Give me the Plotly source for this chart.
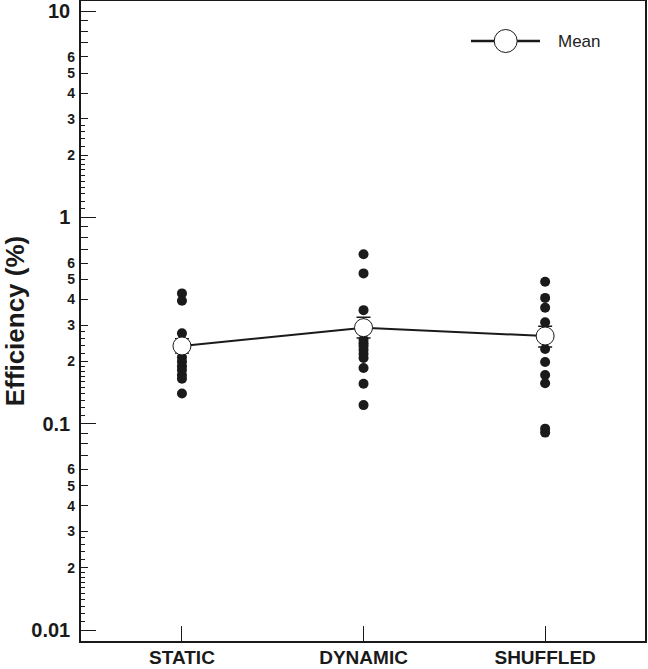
import plotly.graph_objects as go

categories = ["STATIC", "DYNAMIC", "SHUFFLED"]

static_vals = [0.428, 0.394, 0.274, 0.210, 0.200, 0.190, 0.182, 0.172, 0.165, 0.140]
dynamic_vals = [0.662, 0.535, 0.355, 0.255, 0.245, 0.238, 0.228, 0.218, 0.208, 0.186, 0.156, 0.123]
shuffled_vals = [0.487, 0.407, 0.365, 0.310, 0.230, 0.199, 0.172, 0.157, 0.0946, 0.0905]

mean_vals = [0.238, 0.292, 0.266]
err_plus = [0.020, 0.036, 0.031]
err_minus = [0.018, 0.032, 0.031]

major_ticks = [0.01, 0.1, 1, 10]
major_labels = ["0.01", "0.1", "1", "10"]
labeled_minor = [0.02, 0.03, 0.04, 0.05, 0.06, 0.2, 0.3, 0.4, 0.5, 0.6, 2, 3, 4, 5, 6]
labeled_minor_text = ["2", "3", "4", "5", "6"] * 3
plain_minor = [0.07, 0.08, 0.09, 0.7, 0.8, 0.9, 7, 8, 9]
fine_minor_base = [1.1, 1.2, 1.3, 1.4, 1.5, 1.6, 1.7, 1.8, 1.9, 2.2, 2.4, 2.6, 2.8]
fine_minor = [round(v * d, 6) for d in (0.01, 0.1, 1) for v in fine_minor_base]

INK = "#1a1a1a"
FONT = "Liberation Sans"
yrange = [-2.0533, 1.0485]

fig = go.Figure()

xs, ys = [], []
for cat, vals in zip(categories, [static_vals, dynamic_vals, shuffled_vals]):
    xs += [cat] * len(vals)
    ys += vals

fig.add_trace(go.Scatter(
    x=xs, y=ys, mode="markers",
    marker=dict(size=10, color=INK, line=dict(width=0)),
    showlegend=False, hoverinfo="skip",
))

fig.add_trace(go.Scatter(
    x=categories, y=mean_vals, mode="lines+markers", name="Mean",
    line=dict(color=INK, width=2),
    marker=dict(size=18, color="white", line=dict(color=INK, width=1)),
    error_y=dict(type="data", array=err_plus, arrayminus=err_minus,
                 color=INK, thickness=1.5, width=7),
    showlegend=False,
))

# y2: labelled minor ticks
fig.add_trace(go.Scatter(x=[categories[0]], y=[1], yaxis="y2", mode="markers",
                         marker=dict(size=0, opacity=0), showlegend=False, hoverinfo="skip"))

# custom legend on overlay axes
fig.add_trace(go.Scatter(x=[0.6915, 0.8138], y=[0.9375, 0.9375], xaxis="x2", yaxis="y3",
                         mode="lines", line=dict(color=INK, width=2.5),
                         showlegend=False, hoverinfo="skip"))
fig.add_trace(go.Scatter(x=[0.753], y=[0.9375], xaxis="x2", yaxis="y3",
                         mode="markers",
                         marker=dict(size=23, color="white", line=dict(color=INK, width=1)),
                         showlegend=False, hoverinfo="skip"))
fig.add_annotation(x=0.843, y=0.9375, xref="paper", yref="paper", text="Mean",
                   showarrow=False, xanchor="left", yanchor="middle",
                   font=dict(family=FONT, size=17, color="#222"))

fig.update_layout(
    width=648, height=669,
    margin=dict(l=81, r=3, t=1, b=28),
    paper_bgcolor="white", plot_bgcolor="white",
    showlegend=False,
    xaxis=dict(
        type="category", categoryorder="array", categoryarray=categories,
        range=[-0.556, 2.55], automargin=False,
        showline=True, linecolor=INK, linewidth=1.5, mirror=True,
        ticks="inside", ticklen=15, tickcolor=INK, tickwidth=1,
        ticklabelstandoff=-2,
        tickfont=dict(family=FONT, size=19, color=INK, weight="bold"),
        showgrid=False, zeroline=False,
    ),
    yaxis=dict(
        type="log", range=yrange, automargin=False,
        showline=True, linecolor=INK, linewidth=1.5, mirror=True,
        tickmode="array", tickvals=major_ticks, ticktext=major_labels,
        ticks="inside", ticklen=15, tickcolor=INK, tickwidth=1,
        ticklabelstandoff=5,
        tickfont=dict(family=FONT, size=20, color=INK, weight="bold"),
        showgrid=False, zeroline=False,
        title=dict(text="Efficiency (%)", standoff=7,
                   font=dict(family=FONT, size=26, color=INK, weight="bold")),
        minor=dict(tickmode="array", tickvals=fine_minor, ticks="inside",
                   ticklen=4, tickcolor=INK, tickwidth=1, showgrid=False),
    ),
    yaxis2=dict(
        type="log", range=yrange, overlaying="y", side="left", anchor="x",
        automargin=False,
        showline=False, showgrid=False, zeroline=False,
        tickmode="array", tickvals=labeled_minor + plain_minor,
        ticktext=labeled_minor_text + [""] * len(plain_minor),
        ticks="inside", ticklen=7, tickcolor=INK, tickwidth=1,
        ticklabelstandoff=5,
        tickfont=dict(family=FONT, size=14, color=INK, weight="bold"),
    ),
    xaxis2=dict(domain=[0, 1], range=[0, 1], overlaying="x", visible=False, anchor="y3"),
    yaxis3=dict(domain=[0, 1], range=[0, 1], overlaying="y", visible=False, anchor="x2"),
)

fig.write_html("out.html", config={"displayModeBar": False},
               post_script="document.body.style.margin='0';document.body.style.overflow='hidden';")
